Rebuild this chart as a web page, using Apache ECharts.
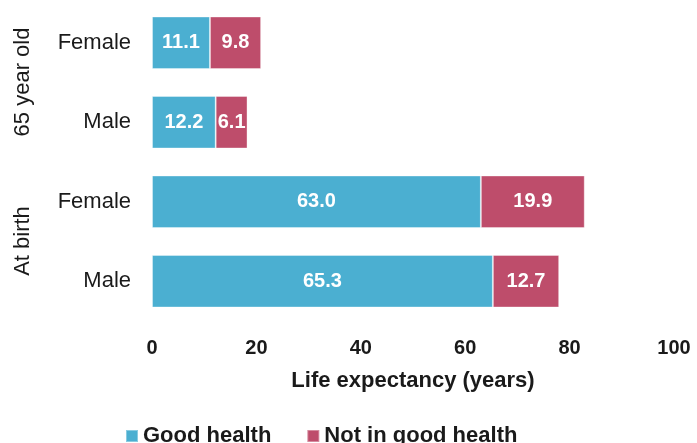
<!DOCTYPE html>
<html><head><meta charset="utf-8">
<script src="https://cdn.jsdelivr.net/npm/echarts@6/dist/echarts.min.js"></script>
<style>html,body{margin:0;padding:0;background:#fff}#c{width:697px;height:443px}</style>
</head><body><div id="c"></div>
<script>
const categories = ['Female', 'Male', 'Female', 'Male'];
const groups = ['65 year old', 'At birth'];
const goodHealth = [11.1, 12.2, 63.0, 65.3];
const notGoodHealth = [9.8, 6.1, 19.9, 12.7];
const xTicks = [0, 20, 40, 60, 80, 100];

const FONT = '"Liberation Sans", Arial, sans-serif';
const TXT = '#1a1a1a';
const chart = echarts.init(document.getElementById('c'));
const keys = categories.map((c, i) => i + ':' + c);
chart.setOption({
  animation: false,
  textStyle: { fontFamily: FONT },
  grid: { left: 152, width: 522, top: 3, height: 318, containLabel: false },
  legend: {
    top: 425, left: 125, padding: 0, itemGap: 35, itemWidth: 12, itemHeight: 12, icon: 'rect',
    textStyle: { fontSize: 22, fontWeight: 'bold', color: TXT, fontFamily: FONT },
    data: ['Good health', 'Not in good health']
  },
  xAxis: {
    type: 'value', min: xTicks[0], max: xTicks[xTicks.length - 1], interval: 20,
    splitLine: { show: false }, axisLine: { show: false }, axisTick: { show: false },
    axisLabel: { fontSize: 20, fontWeight: 'bold', color: TXT, margin: 17 },
    name: 'Life expectancy (years)', nameLocation: 'middle', nameGap: 49,
    nameTextStyle: { fontSize: 22, fontWeight: 'bold', color: TXT }
  },
  yAxis: {
    type: 'category', inverse: true, data: keys,
    axisLine: { show: false }, axisTick: { show: false },
    axisLabel: { fontSize: 22, color: TXT, margin: 21, formatter: v => v.split(':')[1] }
  },
  series: [
    { name: 'Good health', type: 'bar', stack: 't', data: goodHealth, barCategoryGap: '34%',
      itemStyle: { color: '#4BAFD1', borderColor: 'rgba(255,255,255,0.35)', borderWidth: 1 },
      label: { show: true, position: 'inside', color: '#fff', fontSize: 20, fontWeight: 'bold', formatter: p => p.value.toFixed(1) } },
    { name: 'Not in good health', type: 'bar', stack: 't', data: notGoodHealth,
      itemStyle: { color: '#BE4D6B', borderColor: 'rgba(255,255,255,0.35)', borderWidth: 1 },
      label: { show: true, position: 'inside', color: '#fff', fontSize: 20, fontWeight: 'bold', formatter: p => p.value.toFixed(1) } }
  ],
  graphic: [
    { type: 'text', x: 23, y: 82, rotation: Math.PI / 2, style: { text: groups[0], font: '22px ' + FONT, fill: TXT, align: 'center', verticalAlign: 'middle' } },
    { type: 'text', x: 23, y: 241, rotation: Math.PI / 2, style: { text: groups[1], font: '22px ' + FONT, fill: TXT, align: 'center', verticalAlign: 'middle' } }
  ]
});
</script></body></html>
